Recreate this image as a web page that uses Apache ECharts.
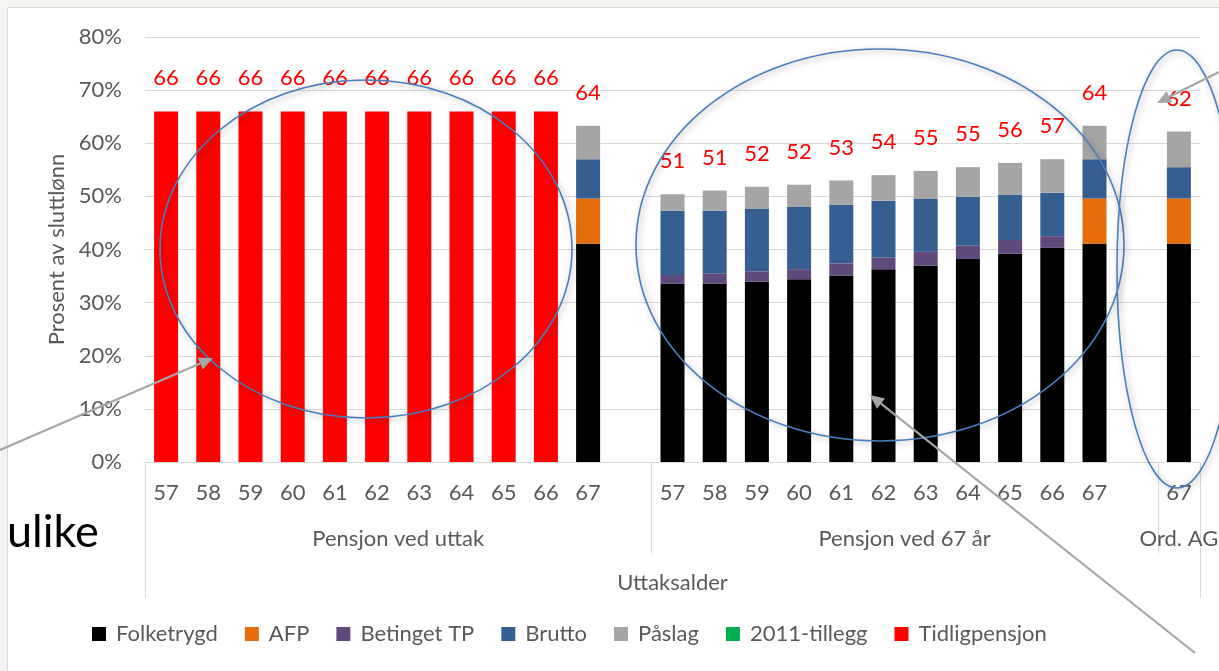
<!DOCTYPE html>
<html><head><meta charset="utf-8">
<script src="https://cdn.jsdelivr.net/npm/echarts@6/dist/echarts.min.js"></script>
<style>html,body{margin:0;padding:0;background:#fff}#c{width:1219px;height:671px}</style>
</head><body><div id="c"></div>
<script>
// ---- data ----
const categories = ['57','58','59','60','61','62','63','64','65','66','67','',
                    '57','58','59','60','61','62','63','64','65','66','67','',
                    '67'];
const groupNames = ['Pensjon ved uttak','Pensjon ved 67 år','Ord. AG'];
const groupSpans = [12, 12, 1];
const axisTitle = 'Uttaksalder';
const yName = 'Prosent av sluttlønn';

const folketrygd    = [0,0,0,0,0,0,0,0,0,0,41.1,null, 33.6,33.6,34.0,34.4,35.1,36.3,37.0,38.2,39.2,40.3,41.1,null, 41.1];
const afp           = [0,0,0,0,0,0,0,0,0,0,8.5,null,  0,0,0,0,0,0,0,0,0,0,8.5,null, 8.5];
const betingetTP    = [0,0,0,0,0,0,0,0,0,0,0,null,    1.6,1.9,1.9,1.9,2.3,2.2,2.6,2.5,2.6,2.2,0,null, 0];
const brutto        = [0,0,0,0,0,0,0,0,0,0,7.4,null,  12.1,11.8,11.8,11.8,11.0,10.7,10.0,9.2,8.5,8.2,7.4,null, 5.9];
const paslag        = [0,0,0,0,0,0,0,0,0,0,6.3,null,  3.1,3.8,4.1,4.1,4.6,4.8,5.2,5.6,6.0,6.3,6.3,null, 6.7];
const tillegg2011   = [0,0,0,0,0,0,0,0,0,0,0,null,    0,0,0,0,0,0,0,0,0,0,0,null, 0];
const tidligpensjon = [66,66,66,66,66,66,66,66,66,66,0,null, 0,0,0,0,0,0,0,0,0,0,0,null, 0];
const totalLabels   = [66,66,66,66,66,66,66,66,66,66,64,null, 51,51,52,52,53,54,55,55,56,57,64,null, 62];

const legendOrder = ['Folketrygd','AFP','Betinget TP','Brutto','Påslag','2011-tillegg','Tidligpensjon'];
const colors = {
  'Folketrygd':'#000000','AFP':'#E46C0A','Betinget TP':'#604A7B','Brutto':'#365F91',
  'Påslag':'#A5A5A5','2011-tillegg':'#00B050','Tidligpensjon':'#FF0000'
};

// ---- derived axis helpers ----
const nCat = categories.length;
const groupEdges = [0];
groupSpans.forEach(s => groupEdges.push(groupEdges[groupEdges.length-1] + s));
const groupCenters = groupSpans.map((s,i) => groupEdges[i] + s/2);

const FONT = 'Lato, "Open Sans", sans-serif';
const FS = 22;
const TXT = '#595959';
const GRID_C = '#d9d9d9';

function bar(name, data, extra) {
  return Object.assign({
    name, type:'bar', stack:'tot', data, barWidth:24,
    itemStyle:{color:colors[name]}, emphasis:{disabled:true}, animation:false
  }, extra||{});
}

const series = [
  bar('Folketrygd', folketrygd),
  bar('AFP', afp),
  bar('Betinget TP', betingetTP),
  bar('Brutto', brutto),
  bar('Påslag', paslag),
  bar('Tidligpensjon', tidligpensjon),
  bar('2011-tillegg', tillegg2011, {
    label:{show:true, position:'top', distance:22, color:'#FF0000', fontSize:FS, fontFamily:FONT,
      formatter: p => totalLabels[p.dataIndex] == null ? '' : String(totalLabels[p.dataIndex])}
  })
];

// ---- annotations (decorative) ----
function arrow(x1,y1,x2,y2){
  const a = Math.atan2(y2-y1, x2-x1), L=14, W=6.5;
  const bx = x2 - L*Math.cos(a), by = y2 - L*Math.sin(a);
  const px = -Math.sin(a), py = Math.cos(a);
  return [
    {type:'line', z:100, shape:{x1,y1,x2:bx,y2:by}, style:{stroke:'#a6a6a6', lineWidth:2.2}},
    {type:'polygon', z:100, shape:{points:[[x2,y2],[bx+W*px,by+W*py],[bx-W*px,by-W*py]]}, style:{fill:'#a6a6a6'}}
  ];
}
function ell(cx,cy,rx,ry){
  return {type:'ellipse', z:99, shape:{cx,cy,rx,ry},
    style:{fill:'none', stroke:'#4a7ebb', lineWidth:1.6, shadowBlur:6, shadowColor:'rgba(0,0,0,0.35)', shadowOffsetX:2, shadowOffsetY:2}};
}
const graphics = [
  {type:'rect', z:-10, shape:{x:0,y:0,width:1219,height:7}, style:{fill:'#f5f4f0'}},
  {type:'rect', z:-10, shape:{x:0,y:0,width:7,height:671}, style:{fill:'#f5f4f0'}},
  {type:'line', z:-9, shape:{x1:7.5,y1:7.5,x2:1219,y2:7.5}, style:{stroke:GRID_C, lineWidth:1}},
  {type:'line', z:-9, shape:{x1:7.5,y1:7.5,x2:7.5,y2:671}, style:{stroke:GRID_C, lineWidth:1}},
  ell(366,249,206,169),
  ell(880,245,244,196),
  ell(1177,269,60,219),
  ...arrow(0,450,213,358),
  ...arrow(1195,653,870,395),
  ...arrow(1219,72,1157,103),
  {type:'text', z:101, x:7, y:510, style:{text:'ulike', fontSize:45, fontFamily:FONT, fill:'#000'}}
];

const option = {
  backgroundColor:'#ffffff',
  animation:false,
  textStyle:{fontFamily:FONT},
  grid:{left:145, right:19, top:37, bottom:209, containLabel:false, outerBoundsMode:'none'},
  legend:{
    data:legendOrder,
    left:92, top:623, padding:0, itemWidth:14, itemGap:27, itemHeight:14, icon:'rect',
    textStyle:{fontSize:FS, color:TXT, fontFamily:FONT, padding:[0,0,0,5]},
    selectedMode:false
  },
  xAxis:[
    {type:'category', data:categories, position:'bottom',
     axisLine:{show:true, lineStyle:{color:GRID_C, width:1}},
     axisTick:{show:false},
     axisLabel:{interval:0, fontSize:FS, color:TXT, margin:20, fontFamily:FONT},
     splitLine:{show:false}},
    {type:'value', position:'bottom', min:0, max:nCat,
     axisLine:{show:false}, splitLine:{show:false},
     axisTick:{show:true, customValues:groupEdges.slice(1,-1), length:91, lineStyle:{color:GRID_C, width:1}},
     axisLabel:{show:true, customValues:groupCenters, margin:66, fontSize:FS, color:TXT, fontFamily:FONT,
       formatter: v => { const i = groupCenters.indexOf(v); return i>=0 ? groupNames[i] : ''; }}},
    {type:'value', position:'bottom', min:0, max:nCat,
     axisLine:{show:false}, splitLine:{show:false},
     axisTick:{show:true, customValues:[0, nCat], length:136, lineStyle:{color:GRID_C, width:1}},
     axisLabel:{show:true, customValues:[nCat/2], margin:110, fontSize:FS, color:TXT, fontFamily:FONT,
       formatter: () => axisTitle}}
  ],
  yAxis:{type:'value', min:0, max:80, interval:10,
    name:yName, nameLocation:'middle', nameGap:66, nameRotate:90,
    nameTextStyle:{fontSize:FS, color:TXT, fontFamily:FONT},
    axisLine:{show:false}, axisTick:{show:false},
    axisLabel:{formatter:'{value}%', fontSize:FS, color:TXT, margin:23, fontFamily:FONT},
    splitLine:{show:true, lineStyle:{color:GRID_C, width:1}}},
  series,
  graphic:{elements:graphics}
};

const chart = echarts.init(document.getElementById('c'), null, {renderer:'canvas'});
chart.setOption(option);
</script></body></html>
